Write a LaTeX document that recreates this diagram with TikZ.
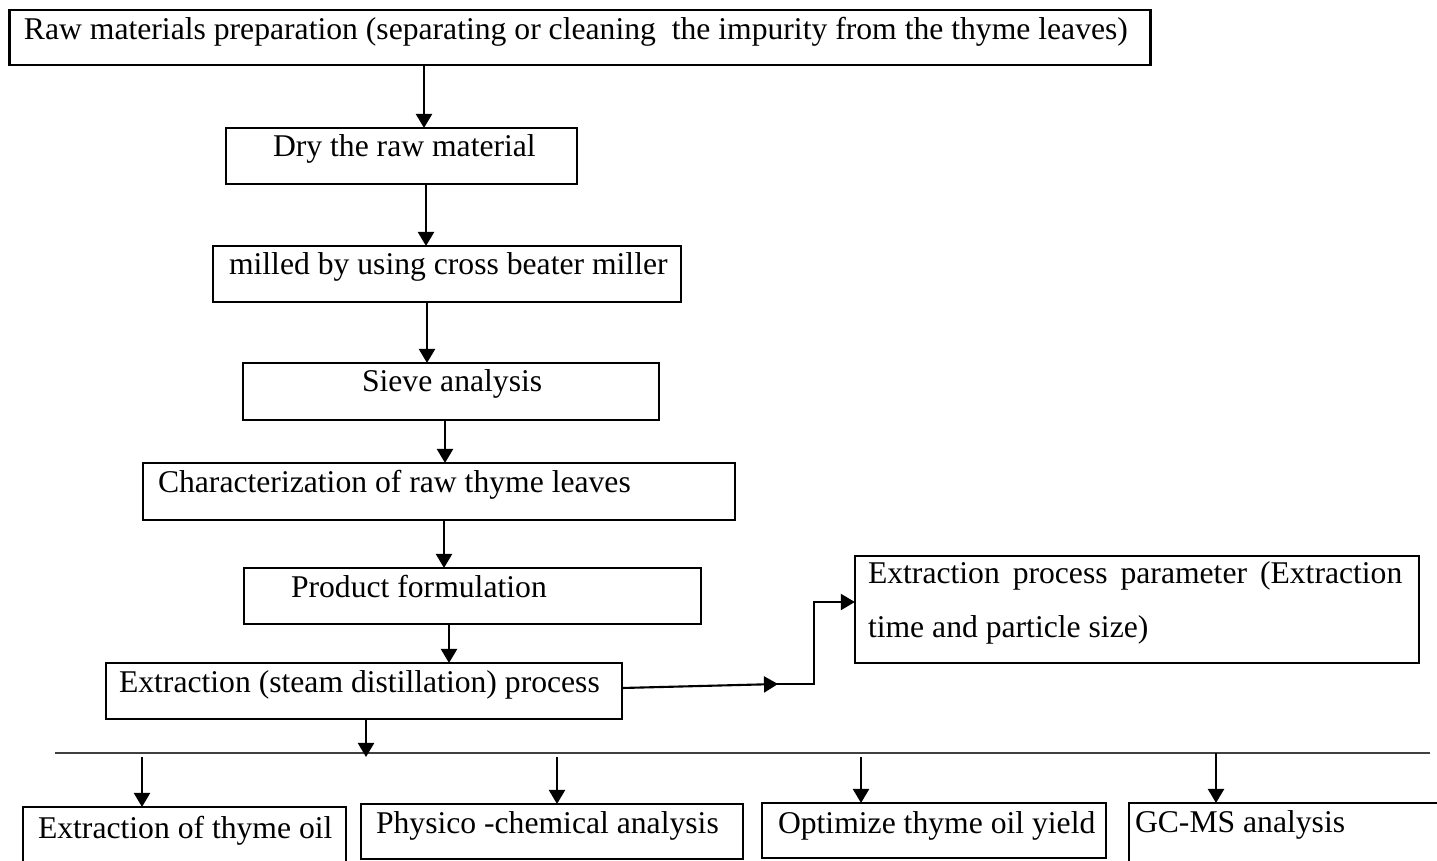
\documentclass[tikz,border=0pt]{standalone}
\usepackage{fontspec}
\setmainfont{Liberation Serif}
\usetikzlibrary{arrows.meta}

\begin{document}
\begin{tikzpicture}[x=0.01cm, y=-0.01cm,
        every node/.style={outer sep=0pt},
        box/.style={draw, line width=0.7pt, inner sep=0pt},
        txt/.style={anchor=base west, inner sep=0pt, font=\fontsize{9}{11}\selectfont},
        arr/.style={line width=0.6pt, -{Triangle[length=0.14cm,width=0.16cm]}}]
            \useasboundingbox (0,0) rectangle (1437,861);
            \clip (0,0) rectangle (1437,861);
            \node[box, minimum width=11.40cm, minimum height=0.55cm] (raw) at (580,37.5) {};
            \node[box, minimum width=3.51cm, minimum height=0.56cm] (dry) at (401.5,156) {};
            \node[box, minimum width=4.68cm, minimum height=0.56cm] (mill) at (447,274) {};
            \node[box, minimum width=4.16cm, minimum height=0.57cm] (sieve) at (451,391.5) {};
            \node[box, minimum width=5.92cm, minimum height=0.57cm] (charac) at (439,491.5) {};
            \node[box, minimum width=4.57cm, minimum height=0.56cm] (prod) at (472.5,596) {};
            \node[box, minimum width=5.16cm, minimum height=0.56cm] (extr) at (364,691) {};
            \node[box, minimum width=5.64cm, minimum height=1.07cm] (param) at (1137,609.5) {};
            \node[box, minimum width=3.23cm, minimum height=0.63cm] (oil) at (184.5,838.5) {};
            \node[box, minimum width=3.82cm, minimum height=0.55cm] (phys) at (552,831.5) {};
            \node[box, minimum width=3.44cm, minimum height=0.55cm] (opt) at (934,830.5) {};
            \node[box, minimum width=3.21cm, minimum height=0.67cm] (gcms) at (1289.5,836.5) {};
            \node[txt] (raw-t) at (24,40) {Raw materials preparation (separating or cleaning\ \ the impurity from the thyme leaves)};
            \node[txt] (dry-t) at (273,157) {Dry the raw material};
            \node[txt] (mill-t) at (229,275) {milled by using cross beater miller};
            \node[txt] (sieve-t) at (362,392) {Sieve analysis};
            \node[txt] (charac-t) at (158,492) {Characterization of raw thyme leaves};
            \node[txt] (prod-t) at (291,597) {Product formulation};
            \node[txt] (extr-t) at (119,692) {Extraction (steam distillation) process};
            \node[txt] (param-t1) at (868,583) {\hbox to 5.34cm{Extraction\hfill process\hfill parameter\hfill (Extraction}};
            \node[txt] (param-t2) at (868,637) {time and particle size)};
            \node[txt] (oil-t) at (38,838) {Extraction of thyme oil};
            \node[txt] (phys-t) at (376,833) {Physico -chemical analysis};
            \node[txt] (opt-t) at (778,833) {Optimize thyme oil yield};
            \node[txt] (gcms-t) at (1135,832) {GC-MS analysis};
            \coordinate (bl) at (55,753);
            \coordinate (br) at (1430,753);
            \coordinate (kink) at (778,684);
            \coordinate (up) at (814,602);
            \draw[line width=0.45pt, black!75] (bl) -- (br);
            \draw[arr] (424,0 |- raw.south) -- (424,0 |- dry.north);
            \draw[arr] (426,0 |- dry.south) -- (426,0 |- mill.north);
            \draw[arr] (427,0 |- mill.south) -- (427,0 |- sieve.north);
            \draw[arr] (445,0 |- sieve.south) -- (445,0 |- charac.north);
            \draw[arr] (444,0 |- charac.south) -- (444,0 |- prod.north);
            \draw[arr] (449,0 |- prod.south) -- (449,0 |- extr.north);
            \draw[arr] (366,0 |- extr.south) -- (366,757);
            \draw[arr] (142,757) -- (142,0 |- oil.north);
            \draw[arr] (557,757) -- (557,0 |- phys.north);
            \draw[arr] (861,757) -- (861,0 |- opt.north);
            \draw[arr] (1216,0 |- br) -- (1216,0 |- gcms.north);
            \draw[arr] (extr.east |- 0,688) -- (kink);
            \draw[arr] ([xshift=-0.06cm]kink) -| (up) -- (up -| param.west);
\end{tikzpicture}
\end{document}
